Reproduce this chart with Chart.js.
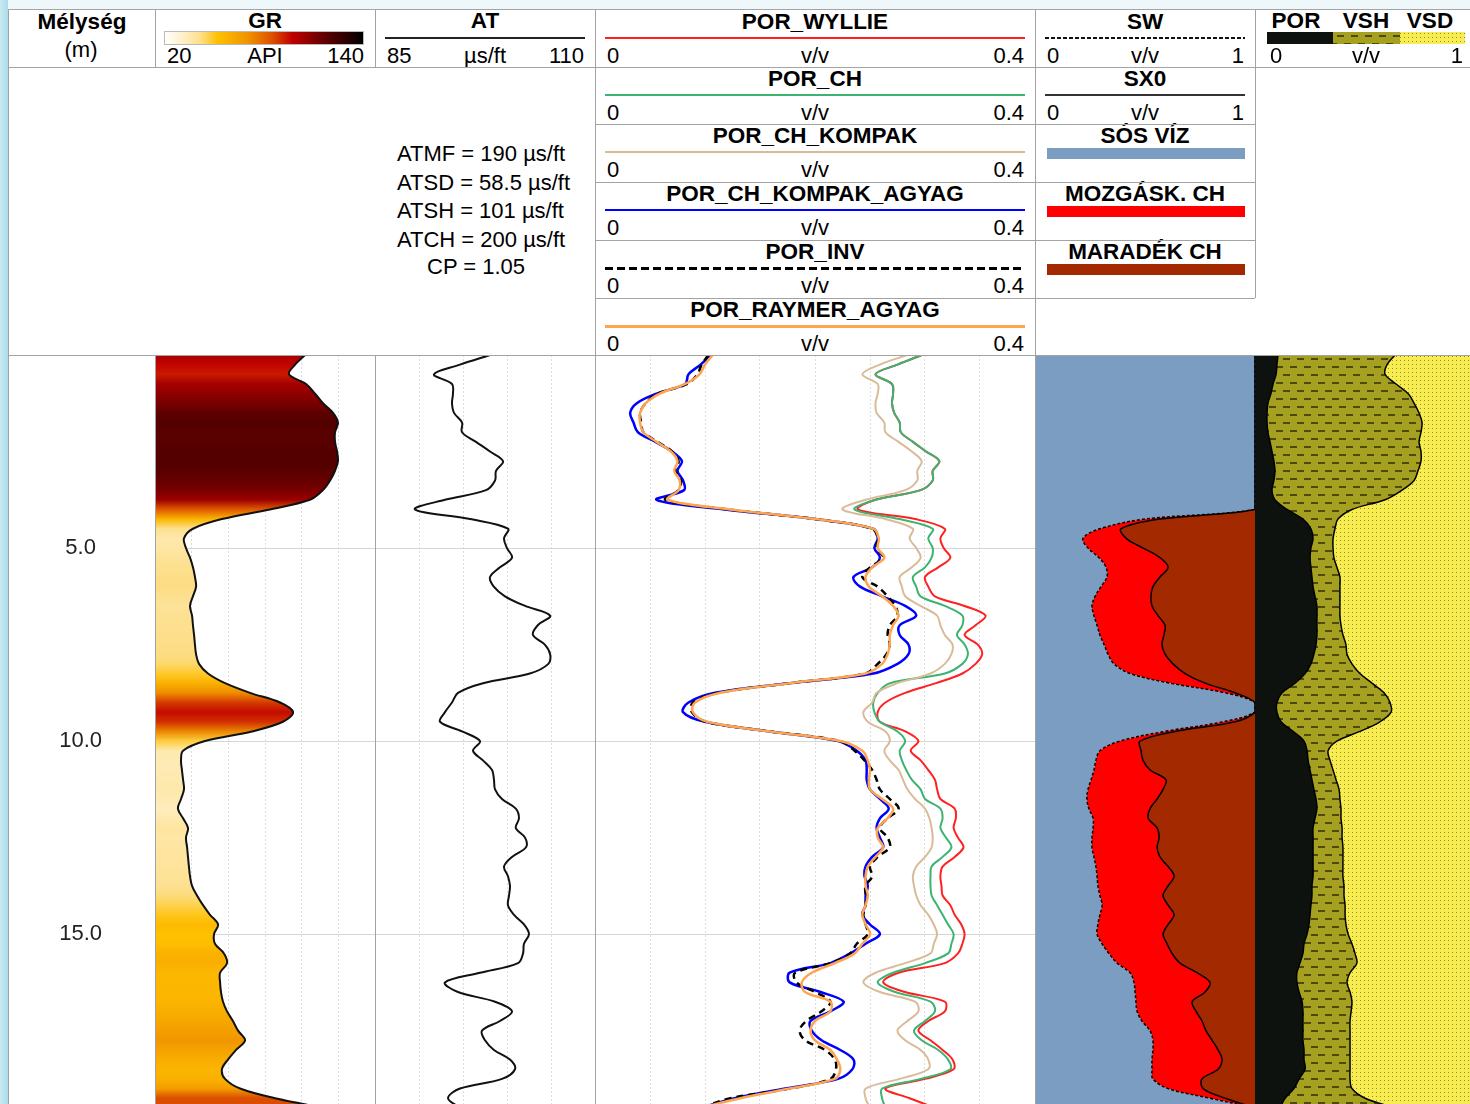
<!DOCTYPE html>
<html lang="hu">
<head>
<meta charset="UTF-8">
<title>Porozitás és szaturáció szelvény</title>
<script src="https://cdn.jsdelivr.net/npm/chart.js"></script>
<style>
  body { margin: 0; background: #fff; font-family: "Liberation Sans", Arial, sans-serif; color: #000; }
  #log { position: relative; width: 1470px; height: 1104px; overflow: hidden; background: #fff; }
  #log canvas.track { position: absolute; top: 355px; }
  .ln { position: absolute; background: #a3a3a3; }
  .txt { position: absolute; white-space: nowrap; font-size: 22px; line-height: 24px; transform: translate(-50%, -50%); }
  .txt.b { font-weight: bold; font-size: 22.5px; }
  .txt.l { transform: translate(0, -50%); }
  .txt.r { transform: translate(-100%, -50%); }
  .bar { position: absolute; }
</style>
</head>
<body>
<div id="log">
  <div class="bar" style="left:0;top:0;width:1470px;height:9px;background:#eef8fb"></div>
  <div class="bar" style="left:0;top:0;width:8px;height:1104px;background:linear-gradient(to right,#c8eaf3,#a9dcea)"></div>
</div>
<script>
// mintavételi mélységek (m)
const depth = [0, 0.25, 0.5, 0.75, 1, 1.25, 1.5, 1.75, 2, 2.25, 2.5, 2.75, 3, 3.25, 3.5, 3.75,
  4, 4.25, 4.5, 4.75, 5, 5.25, 5.5, 5.75, 6, 6.25, 6.5, 6.75, 7, 7.25, 7.5, 7.75,
  8, 8.25, 8.5, 8.75, 9, 9.25, 9.5, 9.75, 10, 10.25, 10.5, 10.75, 11, 11.25, 11.5, 11.75,
  12, 12.25, 12.5, 12.75, 13, 13.25, 13.5, 13.75, 14, 14.25, 14.5, 14.75, 15, 15.25, 15.5, 15.75,
  16, 16.25, 16.5, 16.75, 17, 17.25, 17.5, 17.75, 18, 18.25, 18.5, 18.75, 19, 19.25, 19.5];
const depthTicks = [5, 10, 15];
const DEPTH_MAX = 19.4;

// természetes gamma (API)
const gr = [101.8, 96.4, 93.1, 102.4, 107.3, 111.6, 117.1, 119.8, 118.2, 118.2, 119.3, 119.8, 118.2, 115.5, 111.6, 104.5,
  82.7, 56.5, 40.7, 35.8, 36.9, 39.1, 40.7, 41.8, 42.4, 40.7, 39.1, 40.2, 40.7, 41.3, 41.8, 42.4,
  44.0, 48.9, 58.2, 71.8, 88.2, 95.3, 89.8, 72.9, 47.3, 35.3, 34.2, 34.7, 35.3, 35.8, 34.2, 32.5,
  35.3, 38.0, 36.9, 37.5, 38.0, 38.5, 39.1, 40.2, 42.9, 46.2, 50.0, 54.4, 52.2, 52.7, 57.6, 59.3,
  55.5, 55.5, 56.0, 57.1, 59.3, 62.5, 65.3, 69.1, 64.2, 59.8, 56.5, 58.2, 66.4, 85.5, 112.0];

// akusztikus terjedési idő (µs/ft)
const at = [98.07, 94.66, 91.7, 93.75, 93.86, 93.75, 93.98, 94.89, 94.89, 96.48, 98.07, 99.55, 98.75, 98.64, 97.61, 92.95,
  89.55, 95.8, 100.11, 99.66, 100.0, 100.57, 99.2, 98.07, 98.5, 99.77, 102.05, 104.9, 103.5, 102.95, 104.3, 104.9,
  104.7, 102.6, 97.27, 94.43, 93.75, 92.95, 92.39, 94.89, 96.93, 96.14, 97.27, 98.3, 98.52, 98.64, 99.43, 101.0,
  101.36, 101.0, 102.05, 102.16, 100.57, 99.66, 100.11, 100.34, 100.23, 100.11, 100.8, 101.93, 102.5, 101.93, 101.82, 101.25,
  96.93, 92.95, 94.43, 98.64, 100.57, 99.2, 97.16, 97.5, 98.52, 100.34, 100.91, 99.43, 94.66, 93.3, 94.7];

// porozitás görbék (v/v)
const porWyllie = [0.297, 0.275, 0.255, 0.27, 0.271, 0.27, 0.272, 0.277, 0.278, 0.289, 0.301, 0.313, 0.307, 0.307, 0.296, 0.255,
  0.239, 0.291, 0.318, 0.314, 0.317, 0.323, 0.312, 0.3, 0.303, 0.309, 0.336, 0.355, 0.346, 0.336, 0.348, 0.352,
  0.346, 0.334, 0.31, 0.282, 0.264, 0.257, 0.259, 0.282, 0.294, 0.287, 0.296, 0.303, 0.309, 0.311, 0.314, 0.327,
  0.328, 0.326, 0.33, 0.335, 0.327, 0.316, 0.314, 0.315, 0.316, 0.323, 0.327, 0.333, 0.336, 0.334, 0.33, 0.318,
  0.276, 0.262, 0.282, 0.318, 0.318, 0.303, 0.294, 0.305, 0.316, 0.325, 0.326, 0.3, 0.264, 0.286, 0.309];
const porCh = [0.297, 0.275, 0.255, 0.27, 0.271, 0.27, 0.272, 0.277, 0.278, 0.289, 0.301, 0.313, 0.307, 0.307, 0.296, 0.255,
  0.236, 0.277, 0.307, 0.303, 0.307, 0.306, 0.3, 0.289, 0.292, 0.296, 0.318, 0.334, 0.334, 0.329, 0.336, 0.339,
  0.334, 0.318, 0.268, 0.257, 0.253, 0.254, 0.259, 0.275, 0.282, 0.277, 0.279, 0.283, 0.288, 0.296, 0.3, 0.314,
  0.316, 0.314, 0.319, 0.324, 0.316, 0.306, 0.305, 0.305, 0.306, 0.311, 0.316, 0.321, 0.326, 0.324, 0.321, 0.3,
  0.271, 0.257, 0.273, 0.305, 0.309, 0.3, 0.29, 0.297, 0.312, 0.321, 0.323, 0.296, 0.261, 0.261, 0.264];
const porChKompak = [0.284, 0.259, 0.243, 0.257, 0.257, 0.255, 0.256, 0.263, 0.264, 0.276, 0.288, 0.297, 0.293, 0.293, 0.282, 0.246,
  0.225, 0.264, 0.289, 0.286, 0.292, 0.296, 0.288, 0.277, 0.279, 0.282, 0.296, 0.311, 0.314, 0.318, 0.325, 0.324,
  0.318, 0.305, 0.275, 0.256, 0.252, 0.244, 0.248, 0.264, 0.268, 0.263, 0.268, 0.276, 0.28, 0.284, 0.291, 0.3,
  0.304, 0.306, 0.307, 0.306, 0.3, 0.292, 0.289, 0.29, 0.292, 0.296, 0.303, 0.308, 0.311, 0.308, 0.305, 0.282,
  0.255, 0.244, 0.259, 0.291, 0.294, 0.284, 0.275, 0.282, 0.296, 0.303, 0.303, 0.277, 0.246, 0.246, 0.25];
const porChKompakAgyag = [0.105, 0.096, 0.085, 0.082, 0.056, 0.038, 0.032, 0.035, 0.039, 0.055, 0.07, 0.079, 0.075, 0.08, 0.081, 0.056,
  0.118, 0.2, 0.253, 0.257, 0.254, 0.259, 0.252, 0.235, 0.241, 0.261, 0.282, 0.292, 0.277, 0.277, 0.285, 0.285,
  0.275, 0.253, 0.177, 0.109, 0.085, 0.08, 0.1, 0.159, 0.221, 0.238, 0.246, 0.247, 0.247, 0.25, 0.259, 0.267,
  0.259, 0.256, 0.259, 0.262, 0.252, 0.246, 0.245, 0.248, 0.246, 0.246, 0.243, 0.25, 0.259, 0.246, 0.232, 0.214,
  0.177, 0.177, 0.205, 0.226, 0.214, 0.196, 0.197, 0.206, 0.223, 0.235, 0.234, 0.221, 0.173, 0.127, 0.096];
const porInv = [0.103, 0.097, 0.093, 0.084, 0.057, 0.046, 0.041, 0.042, 0.044, 0.057, 0.07, 0.076, 0.073, 0.078, 0.076, 0.064,
  0.121, 0.2, 0.252, 0.257, 0.256, 0.262, 0.25, 0.243, 0.257, 0.266, 0.273, 0.275, 0.268, 0.266, 0.268, 0.265,
  0.257, 0.246, 0.177, 0.112, 0.089, 0.088, 0.101, 0.159, 0.223, 0.236, 0.245, 0.252, 0.256, 0.259, 0.268, 0.276,
  0.266, 0.259, 0.266, 0.268, 0.257, 0.25, 0.252, 0.246, 0.246, 0.246, 0.244, 0.246, 0.248, 0.238, 0.232, 0.214,
  0.182, 0.183, 0.2, 0.214, 0.206, 0.192, 0.186, 0.191, 0.209, 0.218, 0.219, 0.214, 0.177, 0.123, 0.096];
const porRaymerAgyag = [0.107, 0.1, 0.095, 0.082, 0.059, 0.046, 0.041, 0.041, 0.044, 0.056, 0.069, 0.075, 0.072, 0.077, 0.076, 0.066,
  0.123, 0.2, 0.253, 0.258, 0.257, 0.263, 0.252, 0.246, 0.249, 0.261, 0.271, 0.276, 0.271, 0.268, 0.268, 0.266,
  0.261, 0.246, 0.177, 0.114, 0.091, 0.089, 0.102, 0.159, 0.223, 0.243, 0.248, 0.25, 0.249, 0.25, 0.261, 0.271,
  0.266, 0.257, 0.257, 0.262, 0.255, 0.248, 0.246, 0.246, 0.248, 0.246, 0.243, 0.246, 0.25, 0.243, 0.236, 0.218,
  0.197, 0.188, 0.191, 0.214, 0.214, 0.2, 0.196, 0.2, 0.214, 0.22, 0.223, 0.218, 0.177, 0.132, 0.096];

// víztelítettség (v/v)
const sw = [1, 1, 1, 1, 1, 1, 1, 1, 1, 1, 1, 1, 1, 1, 1, 1,
  1, 0.5, 0.295, 0.218, 0.241, 0.291, 0.323, 0.327, 0.3, 0.273, 0.259, 0.268, 0.282, 0.295, 0.314, 0.332,
  0.359, 0.432, 0.614, 0.864, 1, 1, 0.855, 0.59, 0.386, 0.295, 0.277, 0.268, 0.255, 0.241, 0.236, 0.245,
  0.264, 0.264, 0.259, 0.259, 0.268, 0.277, 0.282, 0.286, 0.295, 0.305, 0.295, 0.286, 0.282, 0.305, 0.336, 0.373,
  0.432, 0.45, 0.455, 0.459, 0.464, 0.486, 0.523, 0.536, 0.536, 0.532, 0.532, 0.536, 0.605, 0.795, 1];
const sx0 = [1, 1, 1, 1, 1, 1, 1, 1, 1, 1, 1, 1, 1, 1, 1, 1,
  1, 0.568, 0.391, 0.414, 0.491, 0.568, 0.605, 0.568, 0.536, 0.527, 0.532, 0.559, 0.591, 0.586, 0.577, 0.591,
  0.627, 0.682, 0.773, 0.909, 1, 1, 0.91, 0.636, 0.477, 0.482, 0.491, 0.523, 0.595, 0.582, 0.555, 0.523,
  0.514, 0.555, 0.564, 0.555, 0.568, 0.605, 0.632, 0.605, 0.582, 0.605, 0.632, 0.605, 0.582, 0.6, 0.623, 0.659,
  0.736, 0.795, 0.773, 0.714, 0.732, 0.759, 0.777, 0.805, 0.832, 0.85, 0.832, 0.759, 0.764, 0.864, 1];

// kőzetösszetétel: pórus, valamint pórus + agyag (v/v), a maradék homok
const por = [0.107, 0.102, 0.098, 0.084, 0.074, 0.06, 0.056, 0.056, 0.06, 0.07, 0.079, 0.088, 0.093, 0.088, 0.079, 0.093,
  0.149, 0.223, 0.26, 0.27, 0.26, 0.256, 0.26, 0.265, 0.27, 0.279, 0.288, 0.288, 0.288, 0.288, 0.284, 0.274,
  0.26, 0.233, 0.186, 0.126, 0.102, 0.102, 0.121, 0.177, 0.228, 0.242, 0.247, 0.256, 0.265, 0.274, 0.284, 0.288,
  0.279, 0.27, 0.27, 0.27, 0.27, 0.27, 0.27, 0.265, 0.265, 0.26, 0.256, 0.251, 0.242, 0.228, 0.223, 0.209,
  0.195, 0.195, 0.205, 0.219, 0.223, 0.223, 0.223, 0.223, 0.228, 0.228, 0.233, 0.205, 0.181, 0.14, 0.116];
const porPlusVsh = [0.651, 0.614, 0.605, 0.656, 0.712, 0.74, 0.763, 0.777, 0.772, 0.763, 0.772, 0.772, 0.758, 0.74, 0.684, 0.605,
  0.451, 0.386, 0.372, 0.363, 0.363, 0.367, 0.381, 0.395, 0.395, 0.395, 0.395, 0.395, 0.4, 0.409, 0.423, 0.428,
  0.451, 0.488, 0.544, 0.6, 0.628, 0.633, 0.581, 0.488, 0.381, 0.34, 0.349, 0.363, 0.377, 0.391, 0.395, 0.4,
  0.4, 0.405, 0.405, 0.409, 0.409, 0.409, 0.409, 0.414, 0.414, 0.419, 0.419, 0.423, 0.433, 0.451, 0.465, 0.474,
  0.442, 0.428, 0.442, 0.451, 0.447, 0.442, 0.442, 0.442, 0.442, 0.442, 0.442, 0.442, 0.451, 0.512, 0.651];

// GR színskála (API -> RGB)
const grStops = [[20, [255, 255, 255]], [30, [255, 241, 205]], [42, [253, 222, 135]], [52, [255, 192, 0]],
  [70, [240, 148, 0]], [85, [220, 80, 0]], [97, [192, 0, 0]], [118, [90, 0, 0]], [140, [0, 0, 0]]];

const C = {
  wyllie: '#ff2020', ch: '#3cb371', kompak: '#d9bb98', agyag: '#0000ff', inv: '#000000', raymer: '#ffa54f',
  water: '#7b9dc2', moveable: '#ff0000', residual: '#a32900',
  pore: '#0e120e', shale: '#a5a020', sand: '#f7ec50', grid: '#dcdcdc', depthGrid: '#d6d6d6'
};

const log = document.getElementById('log');

function grColor(v) {
  if (v <= grStops[0][0]) return 'rgb(' + grStops[0][1].join(',') + ')';
  for (let i = 1; i < grStops.length; i++) {
    const [v1, c1] = grStops[i];
    const [v0, c0] = grStops[i - 1];
    if (v <= v1) {
      const t = (v - v0) / (v1 - v0);
      return 'rgb(' + c0.map((c, k) => Math.round(c + (c1[k] - c) * t)).join(',') + ')';
    }
  }
  return 'rgb(0,0,0)';
}

// agyag jel: szaggatott vonalkák olívzöld alapon
function shalePattern(ctx) {
  const c = document.createElement('canvas');
  c.width = 14; c.height = 16;
  const g = c.getContext('2d');
  g.fillStyle = C.shale; g.fillRect(0, 0, 14, 16);
  g.fillStyle = 'rgba(60,58,10,0.85)';
  g.fillRect(0, 3, 7, 2);
  g.fillRect(7, 11, 7, 2);
  return ctx.createPattern(c, 'repeat');
}
// homok jel: apró pontok sárga alapon
function sandPattern(ctx) {
  const c = document.createElement('canvas');
  c.width = 4; c.height = 4;
  const g = c.getContext('2d');
  g.fillStyle = C.sand; g.fillRect(0, 0, 4, 4);
  g.fillStyle = 'rgba(120,112,50,0.8)';
  g.fillRect(1, 1, 1, 1);
  return ctx.createPattern(c, 'repeat');
}

// ---- fejléc ----
function div(cls, x, y, w, h, style) {
  const d = document.createElement('div');
  d.className = cls;
  d.style.cssText = `left:${x}px;top:${y}px;width:${w}px;height:${h}px;` + (style || '');
  log.appendChild(d);
  return d;
}
function text(s, x, y, cls) {
  const d = document.createElement('div');
  d.className = 'txt ' + (cls || '');
  d.textContent = s;
  d.style.left = x + 'px';
  d.style.top = y + 'px';
  log.appendChild(d);
}
function scaleRow(x0, x1, top, lo, unit, hi) {
  text(lo, x0 + 12, top + 46, 'l');
  text(unit, (x0 + x1) / 2, top + 46);
  text(hi, x1 - 11, top + 46, 'r');
}
function curveHeader(x0, x1, top, name, bg, h, lo, hi) {
  text(name, (x0 + x1) / 2, top + 12, 'b');
  div('bar', x0 + 10, top + 28 - h / 2, x1 - x0 - 20, h, 'background:' + bg);
  scaleRow(x0, x1, top, lo, 'v/v', hi);
}
const dashed = (col, on, off) => `repeating-linear-gradient(90deg,${col} 0 ${on}px,transparent ${on}px ${on + off}px)`;

const rows = [10, 67, 124, 182, 240, 298];

text('Mélység', 82, 22, 'b');
text('(m)', 81, 50);

text('GR', 265, 21, 'b');
const grBar = grStops.map(([v, c]) => `rgb(${c.join(',')}) ${((v - 20) / 120 * 100).toFixed(1)}%`).join(',');
div('bar', 165, 32, 198, 12, `background:linear-gradient(90deg,${grBar});box-shadow:0 0 0 1px #bbb`);
text('20', 167, 56, 'l'); text('API', 265, 56); text('140', 364, 56, 'r');

text('AT', 485, 21, 'b');
div('bar', 385, 37, 200, 2, 'background:#222');
text('85', 387, 56, 'l'); text('µs/ft', 485, 56); text('110', 584, 56, 'r');

['ATMF = 190 µs/ft', 'ATSD = 58.5 µs/ft', 'ATSH = 101 µs/ft', 'ATCH = 200 µs/ft'].forEach((s, i) => {
  text(s, 397, 154 + i * 28.7, 'l');
});
text('CP = 1.05', 427, 267, 'l');

curveHeader(595, 1035, rows[0], 'POR_WYLLIE', C.wyllie, 2, '0', '0.4');
curveHeader(595, 1035, rows[1], 'POR_CH', C.ch, 2, '0', '0.4');
curveHeader(595, 1035, rows[2], 'POR_CH_KOMPAK', C.kompak, 2, '0', '0.4');
curveHeader(595, 1035, rows[3], 'POR_CH_KOMPAK_AGYAG', C.agyag, 2.5, '0', '0.4');
curveHeader(595, 1035, rows[4], 'POR_INV', dashed('#000', 8, 4), 3, '0', '0.4');
curveHeader(595, 1035, rows[5], 'POR_RAYMER_AGYAG', C.raymer, 3, '0', '0.4');

curveHeader(1035, 1255, rows[0], 'SW', dashed('#111', 4, 2), 2, '0', '1');
curveHeader(1035, 1255, rows[1], 'SX0', '#333', 2, '0', '1');
[['SÓS VÍZ', C.water], ['MOZGÁSK. CH', C.moveable], ['MARADÉK CH', C.residual]].forEach(([name, col], i) => {
  const top = rows[2 + i];
  text(name, 1145, top + 12, 'b');
  div('bar', 1047, top + 24, 198, 11, 'background:' + col);
});

text('POR', 1296, 21, 'b'); text('VSH', 1366, 21, 'b'); text('VSD', 1430, 21, 'b');
const lithoBar = document.createElement('canvas');
lithoBar.width = 198; lithoBar.height = 12;
lithoBar.style.cssText = 'position:absolute;left:1267px;top:32px';
log.appendChild(lithoBar);
{
  const g = lithoBar.getContext('2d');
  g.fillStyle = C.pore; g.fillRect(0, 0, 66, 12);
  g.fillStyle = shalePattern(g); g.fillRect(66, 0, 67, 12);
  g.fillStyle = sandPattern(g); g.fillRect(133, 0, 65, 12);
}
text('0', 1270, 56, 'l'); text('v/v', 1366, 56); text('1', 1463, 56, 'r');

// ---- sávok ----
const pts = vals => vals.map((v, i) => ({ x: v, y: depth[i] }));

function track(left, width, xMin, xMax, xStep, datasets, withDepth) {
  const cv = document.createElement('canvas');
  cv.className = 'track';
  cv.width = width; cv.height = 749;
  cv.style.left = left + 'px';
  log.appendChild(cv);
  return new Chart(cv, {
    type: 'line',
    data: { datasets },
    options: {
      responsive: false,
      animation: false,
      events: [],
      indexAxis: 'y',
      layout: { padding: 0, autoPadding: false },
      elements: { point: { radius: 0 }, line: { tension: 0.35, borderJoinStyle: 'round' } },
      plugins: { legend: { display: false }, tooltip: { enabled: false } },
      scales: {
        x: {
          type: 'linear', min: xMin, max: xMax,
          ticks: { display: false, stepSize: xStep },
          grid: { color: C.grid, drawTicks: false },
          border: { display: false, dash: [2, 2] },
          afterBuildTicks: s => { s.ticks = s.ticks.filter(t => t.value > xMin + 1e-9 && t.value < xMax - 1e-9); },
          afterFit: s => { s.height = 0; s.paddingLeft = 0; s.paddingRight = 0; }
        },
        y: {
          type: 'linear', min: 0, max: DEPTH_MAX, reverse: true,
          ticks: {
            display: !!withDepth, padding: 53, crossAlign: 'center', color: '#222',
            font: { family: '"Liberation Sans", Arial, sans-serif', size: 22 },
            callback: v => v.toFixed(1)
          },
          grid: { color: C.depthGrid, drawTicks: false },
          border: { display: false },
          afterBuildTicks: s => { s.ticks = depthTicks.map(v => ({ value: v })); },
          afterFit: s => { s.width = withDepth ? 147 : 0; s.paddingTop = 0; s.paddingBottom = 0; }
        }
      }
    }
  });
}

// GR kitöltés: színátmenet a mért értékek szerint
function grFill(context) {
  const chart = context.chart;
  const area = chart.chartArea;
  if (!area) return 'transparent';
  const yScale = chart.scales.y;
  const g = chart.ctx.createLinearGradient(0, area.top, 0, area.bottom);
  depth.forEach((d, i) => {
    const t = (yScale.getPixelForValue(d) - area.top) / (area.bottom - area.top);
    if (t >= 0 && t <= 1) g.addColorStop(t, grColor(gr[i]));
  });
  return g;
}

track(8, 367, 20, 140, 20, [
  { label: 'GR', data: pts(gr), borderColor: '#111', borderWidth: 2, backgroundColor: grFill, fill: { value: 20 } }
], true);

track(375, 220, 85, 110, 5, [
  { label: 'AT', data: pts(at), borderColor: '#111', borderWidth: 2, fill: false }
]);

track(595, 440, 0, 0.4, 0.05, [
  { label: 'POR_RAYMER_AGYAG', data: pts(porRaymerAgyag), borderColor: C.raymer, borderWidth: 2.5, fill: false },
  { label: 'POR_INV', data: pts(porInv), borderColor: C.inv, borderWidth: 2.5, borderDash: [7, 5], fill: false },
  { label: 'POR_CH_KOMPAK_AGYAG', data: pts(porChKompakAgyag), borderColor: C.agyag, borderWidth: 2.5, fill: false },
  { label: 'POR_CH_KOMPAK', data: pts(porChKompak), borderColor: C.kompak, borderWidth: 2, fill: false },
  { label: 'POR_CH', data: pts(porCh), borderColor: C.ch, borderWidth: 2, fill: false },
  { label: 'POR_WYLLIE', data: pts(porWyllie), borderColor: C.wyllie, borderWidth: 2, fill: false }
]);

track(1035, 220, 0, 1, 0.1, [
  { label: 'SX0', data: pts(sx0), borderColor: '#000', borderWidth: 1.5, backgroundColor: C.residual, fill: { value: 1 } },
  { label: 'SW', data: pts(sw), borderColor: '#000', borderWidth: 1.5, borderDash: [3, 2], backgroundColor: C.moveable, fill: { value: 1 } },
  { label: 'SÓS VÍZ', data: pts(sw), borderWidth: 0, backgroundColor: C.water, fill: { value: 0 } }
]);

const volCtx = document.createElement('canvas').getContext('2d');
track(1255, 215, 0, 1, 0.1, [
  { label: 'POR', data: pts(por), borderColor: '#000', borderWidth: 1.5, backgroundColor: C.pore, fill: { value: 0 } },
  { label: 'VSH', data: pts(porPlusVsh), borderColor: '#000', borderWidth: 1.5, backgroundColor: shalePattern(volCtx), fill: { value: 0 } },
  { label: 'VSD', data: pts(porPlusVsh), borderWidth: 0, backgroundColor: sandPattern(volCtx), fill: { value: 1 } }
]);

// ---- keretvonalak ----
const hl = (x0, x1, y) => div('ln', x0, y, x1 - x0, 1);
const vl = (x, y0, y1) => div('ln', x, y0, 1, y1 - y0);
hl(8, 1470, 9);
hl(8, 1470, 67);
[124, 182, 240, 298].forEach(y => hl(595, 1255, y));
hl(8, 1470, 355);
vl(8, 9, 1104);
[155, 375].forEach(x => { vl(x, 9, 67); vl(x, 355, 1104); });
vl(595, 9, 1104);
vl(1035, 9, 1104);
vl(1255, 9, 298);
</script>
</body>
</html>
